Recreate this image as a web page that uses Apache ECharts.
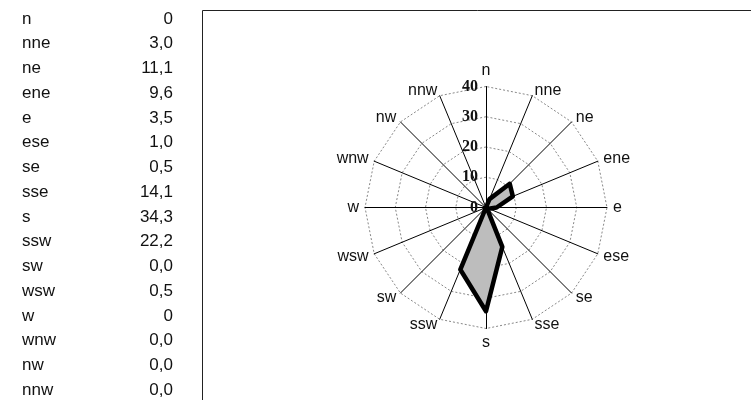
<!DOCTYPE html>
<html>
<head>
<meta charset="utf-8">
<script src="https://cdn.jsdelivr.net/npm/echarts@6/dist/echarts.min.js"></script>
<style>
  html, body { margin: 0; padding: 0; background: #fff; }
  #chart-container { width: 751px; height: 400px; }
</style>
</head>
<body>
<div id="chart-container"></div>
<script>
// wind directions, in table order (clockwise from north)
var directions = ['n', 'nne', 'ne', 'ene', 'e', 'ese', 'se', 'sse',
                  's', 'ssw', 'sw', 'wsw', 'w', 'wnw', 'nw', 'nnw'];
var values = [0, 3.0, 11.1, 9.6, 3.5, 1.0, 0.5, 14.1,
              34.3, 22.2, 0.0, 0.5, 0, 0.0, 0.0, 0.0];
// as printed in the table
var valueLabels = ['0', '3,0', '11,1', '9,6', '3,5', '1,0', '0,5', '14,1',
                   '34,3', '22,2', '0,0', '0,5', '0', '0,0', '0,0', '0,0'];
var radarMin = 0;
var radarMax = 40;
var radarSplits = 4;

var chartDom = document.getElementById('chart-container');
var myChart = echarts.init(chartDom);

// echarts lays radar indicators counter-clockwise, so walk the list backwards after n
var order = [0];
for (var i = directions.length - 1; i > 0; i--) {
    order.push(i);
}

var indicators = order.map(function (k, j) {
    var ind = { name: directions[k], min: radarMin, max: radarMax };
    if (j > 0) {
        ind.axisLabel = { show: false };
    }
    return ind;
});
var radarValues = order.map(function (k) { return values[k]; });

var tableFont = 'Liberation Sans, Arial, sans-serif';
var rowTop = 19;
var rowStep = 24.75;

var graphics = [
    {
        type: 'rect',
        shape: { x: 202.5, y: 10.5, width: 700, height: 500 },
        style: { fill: 'none', stroke: '#222', lineWidth: 1 },
        silent: true
    }
];
for (var r = 0; r < directions.length; r++) {
    graphics.push({
        type: 'text',
        x: 22,
        y: rowTop + r * rowStep,
        style: {
            text: directions[r],
            fontSize: 17,
            fontFamily: tableFont,
            fill: '#111',
            align: 'left',
            verticalAlign: 'middle'
        }
    });
    graphics.push({
        type: 'text',
        x: 173,
        y: rowTop + r * rowStep,
        style: {
            text: valueLabels[r],
            fontSize: 17,
            fontFamily: tableFont,
            fill: '#111',
            align: 'right',
            verticalAlign: 'middle'
        }
    });
}

var option = {
    animation: false,
    backgroundColor: '#fff',
    graphic: graphics,
    radar: {
        center: [486, 207.5],
        radius: 121,
        startAngle: 90,
        shape: 'polygon',
        splitNumber: radarSplits,
        indicator: indicators,
        nameGap: 6,
        axisName: {
            color: '#111',
            fontSize: 16,
            fontFamily: tableFont
        },
        axisLine: {
            lineStyle: { color: '#000', width: 1 }
        },
        splitLine: {
            lineStyle: { color: '#888', width: 1, type: [2, 2] }
        },
        splitArea: { show: false },
        axisTick: { show: false },
        axisLabel: {
            show: true,
            color: '#111',
            fontSize: 16,
            fontWeight: 'bold',
            fontFamily: 'Liberation Serif, Times New Roman, serif',
            margin: 8
        }
    },
    series: [
        {
            // grey fill only
            type: 'radar',
            symbol: 'none',
            z: 2,
            lineStyle: { width: 0, opacity: 0 },
            areaStyle: { color: '#bdbdbd', opacity: 1 },
            data: [{ value: radarValues }]
        },
        {
            // thick outline drawn over the fill
            type: 'radar',
            symbol: 'none',
            z: 3,
            lineStyle: { color: '#000', width: 4.5, join: 'round' },
            data: [{ value: radarValues }]
        }
    ]
};

myChart.setOption(option);
</script>
</body>
</html>
